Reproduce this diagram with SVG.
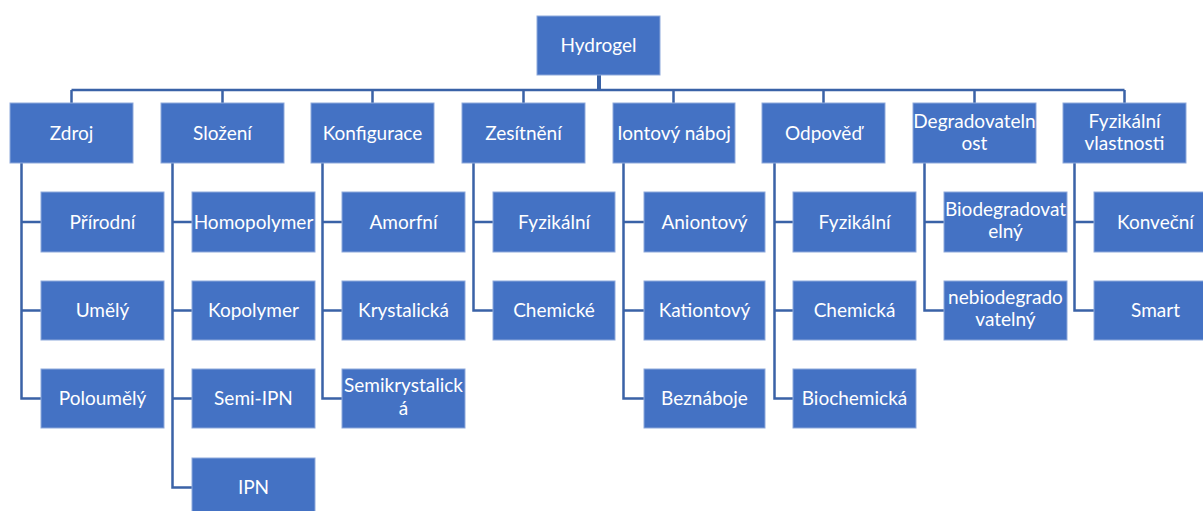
<svg xmlns="http://www.w3.org/2000/svg" width="1203" height="511" viewBox="0 0 1203 511">
<style>
.b{fill:#4472C4;stroke:#8EA9DB;stroke-width:1}
.t{font-family:Lato,"Liberation Sans",sans-serif;font-size:19px;fill:#ffffff;text-anchor:middle}
.c{fill:none;stroke:#3A62A7;stroke-width:2.5}
</style>
<rect width="1203" height="511" fill="#ffffff"/>
<g id="connectors">
<path class="c" d="M599 75V90" style="stroke-width:4"/>
<path class="c" d="M71.5 90H1124.5M71.5 90V103M222.5 90V103M372.5 90V103M523.5 90V103M673.5 90V103M823.5 90V103M974.5 90V103M1124.5 90V103"/>
<path class="c" d="M21.5 163V398.5H41M21.5 222H41M21.5 310.5H41"/>
<path class="c" d="M172.5 163V487.5H192M172.5 222H192M172.5 310.5H192M172.5 398.5H192"/>
<path class="c" d="M322.5 163V398.5H342M322.5 222H342M322.5 310.5H342"/>
<path class="c" d="M473.5 163V310.5H493M473.5 222H493"/>
<path class="c" d="M623.5 163V398.5H644M623.5 222H644M623.5 310.5H644"/>
<path class="c" d="M774.5 163V398.5H793M774.5 222H793M774.5 310.5H793"/>
<path class="c" d="M924.5 163V310.5H944M924.5 222H944"/>
<path class="c" d="M1074.5 163V310.5H1094M1074.5 222H1094"/>
</g>
<g id="n-hydrogel"><rect class="b" x="537" y="16" width="123" height="59"/><text class="t" x="598.5" y="52">Hydrogel</text></g>
<g id="n-zdroj"><rect class="b" x="10" y="103" width="123" height="60"/><text class="t" x="71.5" y="140">Zdroj</text></g>
<g id="n-slozeni"><rect class="b" x="161" y="103" width="123" height="60"/><text class="t" x="222.5" y="140">Složení</text></g>
<g id="n-konfigurace"><rect class="b" x="311" y="103" width="123" height="60"/><text class="t" x="372.5" y="140">Konfigurace</text></g>
<g id="n-zesitneni"><rect class="b" x="462" y="103" width="123" height="60"/><text class="t" x="523.5" y="140">Zesítnění</text></g>
<g id="n-iontovy"><rect class="b" x="613" y="103" width="122" height="60"/><text class="t" x="674" y="140">Iontový náboj</text></g>
<g id="n-odpoved"><rect class="b" x="762" y="103" width="123" height="60"/><text class="t" x="823.5" y="140">Odpověď</text></g>
<g id="n-degrad"><rect class="b" x="913" y="103" width="123" height="60"/><text class="t" x="974.5" y="128">Degradovateln</text><text class="t" x="974.5" y="150">ost</text></g>
<g id="n-fyzvl"><rect class="b" x="1063" y="103" width="123" height="60"/><text class="t" x="1124.5" y="128">Fyzikální</text><text class="t" x="1124.5" y="150">vlastnosti</text></g>

<g id="n-prirodni"><rect class="b" x="41" y="192" width="123" height="60"/><text class="t" x="102.5" y="229">Přírodní</text></g>
<g id="n-umely"><rect class="b" x="41" y="281" width="123" height="59"/><text class="t" x="102.5" y="317">Umělý</text></g>
<g id="n-poloumely"><rect class="b" x="41" y="369" width="123" height="59"/><text class="t" x="102.5" y="405">Poloumělý</text></g>

<g id="n-homopolymer"><rect class="b" x="192" y="192" width="123" height="60"/><text class="t" x="253.5" y="229">Homopolymer</text></g>
<g id="n-kopolymer"><rect class="b" x="192" y="281" width="123" height="59"/><text class="t" x="253.5" y="317">Kopolymer</text></g>
<g id="n-semiipn"><rect class="b" x="192" y="369" width="123" height="59"/><text class="t" x="253.5" y="405">Semi-IPN</text></g>
<g id="n-ipn"><rect class="b" x="192" y="458" width="123" height="60"/><text class="t" x="253.5" y="494">IPN</text></g>

<g id="n-amorfni"><rect class="b" x="342" y="192" width="123" height="60"/><text class="t" x="403.5" y="229">Amorfní</text></g>
<g id="n-krystalicka"><rect class="b" x="342" y="281" width="123" height="59"/><text class="t" x="403.5" y="317">Krystalická</text></g>
<g id="n-semikrystalicka"><rect class="b" x="342" y="369" width="123" height="59"/><text class="t" x="403.5" y="392">Semikrystalick</text><text class="t" x="403.5" y="415">á</text></g>

<g id="n-fyzikalni1"><rect class="b" x="493" y="192" width="122" height="60"/><text class="t" x="554" y="229">Fyzikální</text></g>
<g id="n-chemicke"><rect class="b" x="493" y="281" width="122" height="59"/><text class="t" x="554" y="317">Chemické</text></g>

<g id="n-aniontovy"><rect class="b" x="644" y="192" width="121" height="60"/><text class="t" x="704.5" y="229">Aniontový</text></g>
<g id="n-kationtovy"><rect class="b" x="644" y="281" width="121" height="59"/><text class="t" x="704.5" y="317">Kationtový</text></g>
<g id="n-beznaboje"><rect class="b" x="644" y="369" width="121" height="59"/><text class="t" x="704.5" y="405">Beznáboje</text></g>

<g id="n-fyzikalni2"><rect class="b" x="793" y="192" width="123" height="60"/><text class="t" x="854.5" y="229">Fyzikální</text></g>
<g id="n-chemicka"><rect class="b" x="793" y="281" width="123" height="59"/><text class="t" x="854.5" y="317">Chemická</text></g>
<g id="n-biochemicka"><rect class="b" x="793" y="369" width="123" height="59"/><text class="t" x="854.5" y="405">Biochemická</text></g>

<g id="n-biodegradovatelny"><rect class="b" x="944" y="192" width="123" height="60"/><text class="t" x="1005.5" y="216">Biodegradovat</text><text class="t" x="1005.5" y="238">elný</text></g>
<g id="n-nebiodegradovatelny"><rect class="b" x="944" y="281" width="123" height="59"/><text class="t" x="1005.5" y="304">nebiodegrado</text><text class="t" x="1005.5" y="326">vatelný</text></g>

<g id="n-konvecni"><rect class="b" x="1094" y="192" width="123" height="60"/><text class="t" x="1155.5" y="229">Konveční</text></g>
<g id="n-smart"><rect class="b" x="1094" y="281" width="123" height="59"/><text class="t" x="1155.5" y="317">Smart</text></g>
</svg>
